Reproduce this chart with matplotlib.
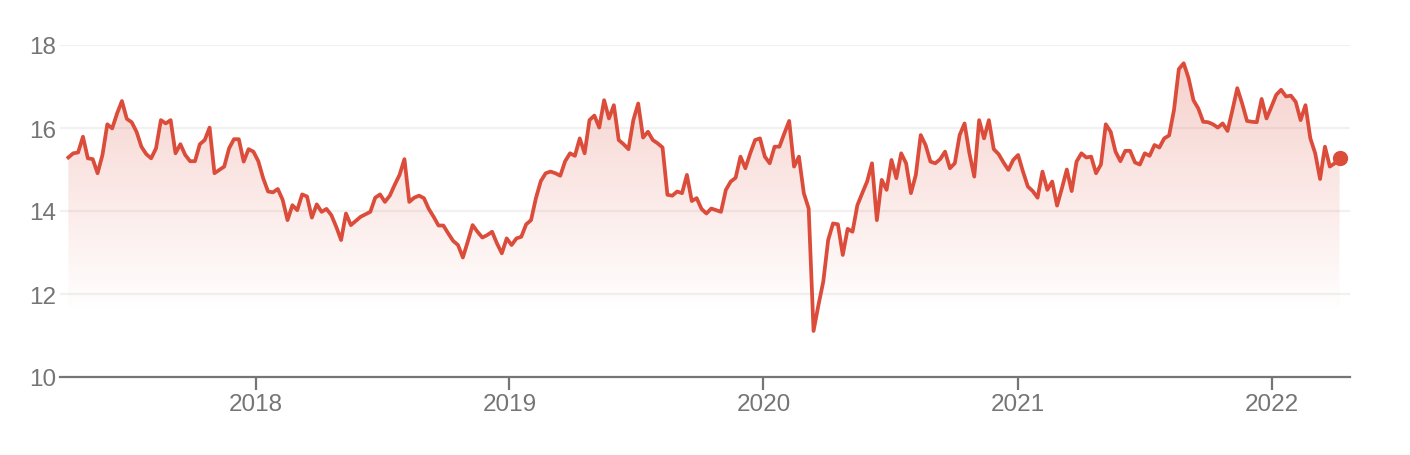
import numpy as np
import pandas as pd
import matplotlib
matplotlib.use("Agg")
import matplotlib.pyplot as plt
import matplotlib.dates as mdates
from matplotlib.colors import LinearSegmentedColormap

# ==========================================
# DATA (weekly values)
# ==========================================

values_2017 = [
    15.29, 15.39, 15.41, 15.79, 15.27, 15.25, 14.91, 15.35, 16.09, 15.99,
    16.35, 16.65, 16.22, 16.14, 15.91, 15.55, 15.37, 15.27, 15.51, 16.19,
    16.11, 16.19, 15.39, 15.61, 15.35, 15.20, 15.20, 15.61, 15.71, 16.01,
    14.91, 14.99, 15.07, 15.51, 15.73, 15.73, 15.19, 15.49, 15.43, 15.20,
    14.79, 14.47, 14.45, 14.53, 14.27, 13.78, 14.14, 14.02, 14.40, 14.35,
    13.84, 14.16, 13.98, 14.05,
]

values_2018 = [
    13.90, 13.62, 13.30, 13.94, 13.66, 13.76, 13.86, 13.92, 13.98, 14.32,
    14.40, 14.22, 14.37, 14.63, 14.87, 15.25, 14.22, 14.32, 14.37, 14.31,
    14.05, 13.86, 13.65, 13.65, 13.46, 13.28, 13.18, 12.88, 13.26, 13.66,
    13.50, 13.36, 13.42, 13.50, 13.22, 12.98, 13.34, 13.18, 13.34, 13.38,
    13.68, 13.78, 14.31, 14.72, 14.91, 14.95, 14.91, 14.85, 15.20, 15.39,
    15.33, 15.75, 15.39, 16.19,
]

values_2019 = [
    16.30, 16.01, 16.67, 16.23, 16.55, 15.71, 15.61, 15.49, 16.19, 16.59,
    15.77, 15.91, 15.71, 15.63, 15.53, 14.39, 14.37, 14.47, 14.43, 14.87,
    14.24, 14.31, 14.05, 13.94, 14.06, 14.02, 13.98, 14.51, 14.71, 14.80,
    15.31, 15.03, 15.39, 15.71, 15.75, 15.31, 15.15, 15.55, 15.55, 15.87,
    16.17, 15.07, 15.31, 14.43, 14.06, 11.11, 11.73, 12.30, 13.30, 13.70,
    13.68, 12.94, 13.57,
]

values_2020 = [
    13.50, 14.14, 14.43, 14.71, 15.15, 13.78, 14.75, 14.51, 15.23, 14.79,
    15.39, 15.15, 14.43, 14.87, 15.83, 15.59, 15.19, 15.15, 15.25, 15.43,
    15.03, 15.15, 15.83, 16.11, 15.39, 14.83, 16.19, 15.75, 16.19, 15.49,
    15.37, 15.17, 14.99, 15.23, 15.35, 14.95, 14.59, 14.48, 14.32, 14.95,
    14.51, 14.71, 14.13, 14.55, 15.00, 14.48, 15.19, 15.39, 15.29, 15.31,
    14.91, 15.12,
]

values_2021 = [
    16.09, 15.91, 15.43, 15.20, 15.45, 15.45, 15.17, 15.12, 15.39, 15.33,
    15.59, 15.53, 15.75, 15.82, 16.43, 17.42, 17.56, 17.20, 16.67, 16.47,
    16.15, 16.14, 16.09, 16.01, 16.11, 15.93, 16.43, 16.96, 16.59, 16.17,
    16.15, 16.14, 16.70, 16.23, 16.51, 16.80, 16.92, 16.76, 16.78, 16.63,
    16.19, 16.55, 15.75, 15.39, 14.77, 15.55, 15.07, 15.15, 15.27,
]

values = values_2017 + values_2018 + values_2019 + values_2020 + values_2021
dates = pd.date_range("2017-04-07", periods=len(values), freq="7D")

y_ticks = [10, 12, 14, 16, 18]
year_ticks = ["2018", "2019", "2020", "2021", "2022"]

# ==========================================
# STYLE
# ==========================================

LINE_COLOR = "#db4c3b"
TEXT_COLOR = "#757575"
GRID_COLOR = "#f1f1f1"

plt.rcParams["font.family"] = ["Liberation Sans", "DejaVu Sans"]

# ==========================================
# PLOT
# ==========================================

fig = plt.figure(figsize=(14.1, 4.56), dpi=100)
ax = fig.add_axes([60 / 1410, 78 / 456, 1290 / 1410, 332 / 456])

x_num = mdates.date2num(dates)
x_lo = mdates.date2num(pd.Timestamp("2017-03-26"))
x_hi = mdates.date2num(pd.Timestamp("2022-04-23"))

# gradient fill under the line
poly = ax.fill_between(x_num, values, 10, color="none", lw=0)
cmap = LinearSegmentedColormap.from_list(
    "fade", [(0.86, 0.30, 0.23, 0.0), (0.86, 0.30, 0.23, 0.26)]
)
grad = np.linspace(0, 1, 256).reshape(-1, 1)
grad = np.clip((grad - 0.2) / 0.8, 0, 1)
img = ax.imshow(
    grad,
    extent=[x_num[0], x_num[-1], 10, 17.6],
    origin="lower",
    aspect="auto",
    cmap=cmap,
    zorder=1,
)
path = poly.get_paths()[0]
img.set_clip_path(path, transform=ax.transData)

ax.plot(x_num, values, color=LINE_COLOR, linewidth=2.7, zorder=3,
        solid_joinstyle="round")
ax.plot(x_num[-1], values[-1], "o", color=LINE_COLOR, markersize=10, zorder=4)

# grid lines
for yt in y_ticks[1:]:
    ax.axhline(yt, color=GRID_COLOR, linewidth=1.6, zorder=0)

ax.set_xlim(x_lo, x_hi)
ax.set_ylim(10, 18)

ax.set_yticks(y_ticks)
ax.set_yticklabels([str(v) for v in y_ticks])

ax.set_xticks([mdates.date2num(pd.Timestamp(f"{y}-01-01")) for y in year_ticks])
ax.set_xticklabels(year_ticks)

for side in ["top", "right", "left"]:
    ax.spines[side].set_visible(False)
ax.spines["bottom"].set_color(TEXT_COLOR)
ax.spines["bottom"].set_linewidth(1.6)

ax.tick_params(axis="y", length=0, pad=3, labelsize=17.5, labelcolor=TEXT_COLOR)
ax.tick_params(axis="x", length=9.5, width=1.6, color=TEXT_COLOR, pad=2,
               labelsize=17.5, labelcolor=TEXT_COLOR)

fig.savefig("out.png", dpi=100)
